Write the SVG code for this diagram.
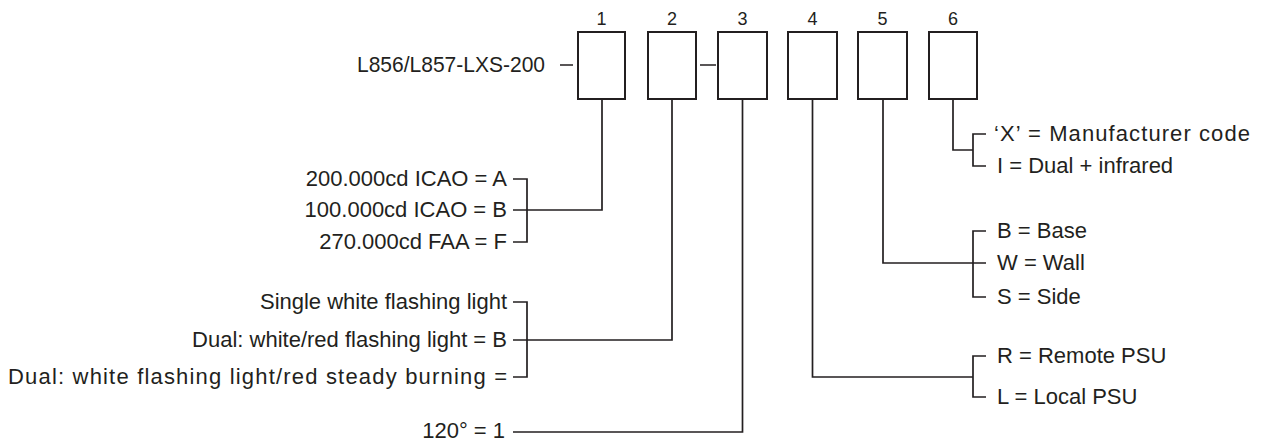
<svg xmlns="http://www.w3.org/2000/svg" width="1261" height="441" viewBox="0 0 1261 441">
<style>
.box{fill:#fff;stroke:#231f20;stroke-width:2}
.ln{fill:none;stroke:#231f20;stroke-width:1.7}
.t{font-family:"Liberation Sans",Arial,sans-serif;font-size:22px;fill:#231f20}
.n{font-family:"Liberation Sans",Arial,sans-serif;font-size:18px;fill:#231f20;text-anchor:middle}
.e{text-anchor:end}
</style>
<rect width="1261" height="441" fill="#fff"/>
<g id="connectors">
<path class="ln" d="M560 65H573M700 65H716"/>
<path class="ln" d="M602 99V210H513M513 179H527V242H513"/>
<path class="ln" d="M672 99V340H513M513 302H527V377H513"/>
<path class="ln" d="M742.5 99V432H513"/>
<path class="ln" d="M812.5 99V377H973M986 356H973V397H986"/>
<path class="ln" d="M883 99V263H986M986 231H973V297H986"/>
<path class="ln" d="M953 99V150H973M986 134H973V166H986"/>
</g>
<g id="title"><text class="t e" x="545" y="72" textLength="188" lengthAdjust="spacingAndGlyphs">L856/L857-LXS-200</text></g>
<g id="box1"><rect class="box" x="578" y="32" width="47" height="67"/><text class="n" x="601.5" y="25">1</text></g>
<g id="box2"><rect class="box" x="648" y="32" width="48" height="67"/><text class="n" x="672" y="25">2</text></g>
<g id="box3"><rect class="box" x="718" y="32" width="49" height="67"/><text class="n" x="742.5" y="25">3</text></g>
<g id="box4"><rect class="box" x="788" y="32" width="49" height="67"/><text class="n" x="812.5" y="25">4</text></g>
<g id="box5"><rect class="box" x="858" y="32" width="49" height="67"/><text class="n" x="882.5" y="25">5</text></g>
<g id="box6"><rect class="box" x="929" y="32" width="48" height="67"/><text class="n" x="953" y="25">6</text></g>
<g id="opt1">
<text class="t e" x="507" y="186">200.000cd ICAO = A</text>
<text class="t e" x="507" y="217">100.000cd ICAO = B</text>
<text class="t e" x="507" y="249">270.000cd FAA = F</text>
</g>
<g id="opt2">
<text class="t e" x="507" y="309">Single white flashing light</text>
<text class="t e" x="507" y="347">Dual: white/red flashing light = B</text>
<text class="t e" x="507" y="384" textLength="499" lengthAdjust="spacing">Dual: white flashing light/red steady burning =</text>
</g>
<g id="opt3"><text class="t e" x="505" y="438">120° = 1</text></g>
<g id="opt4">
<text class="t" x="997" y="363">R = Remote PSU</text>
<text class="t" x="997" y="404">L = Local PSU</text>
</g>
<g id="opt5">
<text class="t" x="997" y="238">B = Base</text>
<text class="t" x="997" y="270">W = Wall</text>
<text class="t" x="997" y="304">S = Side</text>
</g>
<g id="opt6">
<text class="t" x="994" y="141" textLength="256" lengthAdjust="spacing">‘X’ = Manufacturer code</text>
<text class="t" x="997" y="173">I = Dual + infrared</text>
</g>
</svg>
